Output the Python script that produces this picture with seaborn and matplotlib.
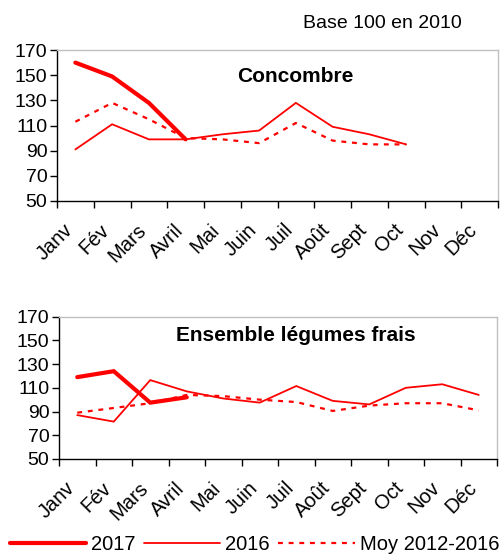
import matplotlib
matplotlib.use('Agg')
import matplotlib.pyplot as plt
import seaborn as sns
import pandas as pd
import numpy as np

nan = np.nan
months = ["Janv", "Fév", "Mars", "Avril", "Mai", "Juin", "Juil", "Août", "Sept", "Oct", "Nov", "Déc"]
series_names = ["2017", "2016", "Moy 2012-2016"]

conc_2017 = [160, 149, 128, 99, nan, nan, nan, nan, nan, nan, nan, nan]
conc_2016 = [91, 111, 99, 99, 103, 106, 128, 109, 103, 95, nan, nan]
conc_moy = [113, 128, 115, 100, 99, 96, 112, 98, 95, 95, nan, nan]

ens_2017 = [119, 124, 97.5, 102, nan, nan, nan, nan, nan, nan, nan, nan]
ens_2016 = [87, 81.5, 116.5, 107, 101, 97.5, 111.5, 99, 96, 110, 113, 104]
ens_moy = [89, 93, 97, 104, 103, 100, 98, 90.5, 95, 97, 97, 91]

yticks = [50, 70, 90, 110, 130, 150, 170]

sns.set_style("ticks")
plt.rcParams['font.family'] = ['Liberation Sans', 'DejaVu Sans']
plt.rcParams['text.color'] = 'black'
plt.rcParams['xtick.color'] = 'black'
plt.rcParams['ytick.color'] = 'black'
plt.rcParams['xtick.labelcolor'] = 'black'
plt.rcParams['ytick.labelcolor'] = 'black'

RED = '#ff0000'
fig = plt.figure(figsize=(5.0, 5.56), dpi=100)
ax1 = fig.add_axes([0.114, 0.6385, 0.882, 0.2715])
ax2 = fig.add_axes([0.118, 0.1745, 0.876, 0.256])

styles = {
    "2017": dict(lw=3.0, ls='-'),
    "2016": dict(lw=1.3, ls='-'),
    "Moy 2012-2016": dict(lw=1.6, ls=(0, (2.2, 2.6))),
}

def draw(ax, data, title, ty):
    xs = np.arange(12) + 0.5
    for name, vals in zip(series_names, data):
        df = pd.DataFrame({"x": xs, "y": vals}).dropna()
        st = styles[name]
        sns.lineplot(data=df, x="x", y="y", ax=ax, color=RED, lw=st['lw'],
                     linestyle=st['ls'], label=name, legend=False,
                     solid_joinstyle='miter')
    ax.set_xlim(0, 12)
    ax.set_ylim(50, 170)
    ax.set_yticks(yticks)
    ax.tick_params(axis='y', labelsize=14, length=5, width=1, pad=2,
                   color='black', labelcolor='black')
    ax.set_xticks(range(13))
    ax.set_xticklabels([])
    # label anchors sit slightly left of the category centre (Excel style)
    ax.set_xticks(xs - 0.33, minor=True)
    ax.set_xticklabels(months, minor=True, rotation=45, ha='right',
                       rotation_mode='anchor', fontsize=14.5, color='black')
    ax.tick_params(axis='x', which='major', length=5, width=1, color='black')
    ax.tick_params(axis='x', which='minor', length=0, pad=14)
    ax.set_xlabel("")
    ax.set_ylabel("")
    for s in ['top', 'right']:
        ax.spines[s].set_color('#c0c0c0')
        ax.spines[s].set_linewidth(1)
    for s in ['left', 'bottom']:
        ax.spines[s].set_color('black')
        ax.spines[s].set_linewidth(1)
    ax.text(0.54, ty, title, transform=ax.transAxes, ha='center', va='center',
            fontsize=15, fontweight='bold', color='black')

draw(ax1, [conc_2017, conc_2016, conc_moy], "Concombre", 0.828)
draw(ax2, [ens_2017, ens_2016, ens_moy], "Ensemble légumes frais", 0.871)

fig.text(0.764, 0.957, "Base 100 en 2010", ha='center', va='center', fontsize=14,
         color='black')

handles, labels = ax2.get_legend_handles_labels()
leg = fig.legend(handles, labels, loc='lower center', bbox_to_anchor=(0.509, 0.003), ncol=3,
                 frameon=False, fontsize=14.5, handlelength=3.8, columnspacing=0.4,
                 handletextpad=0.25, borderaxespad=0, borderpad=0)
for t in leg.get_texts():
    t.set_color('black')

fig.savefig("out.png", dpi=100)
